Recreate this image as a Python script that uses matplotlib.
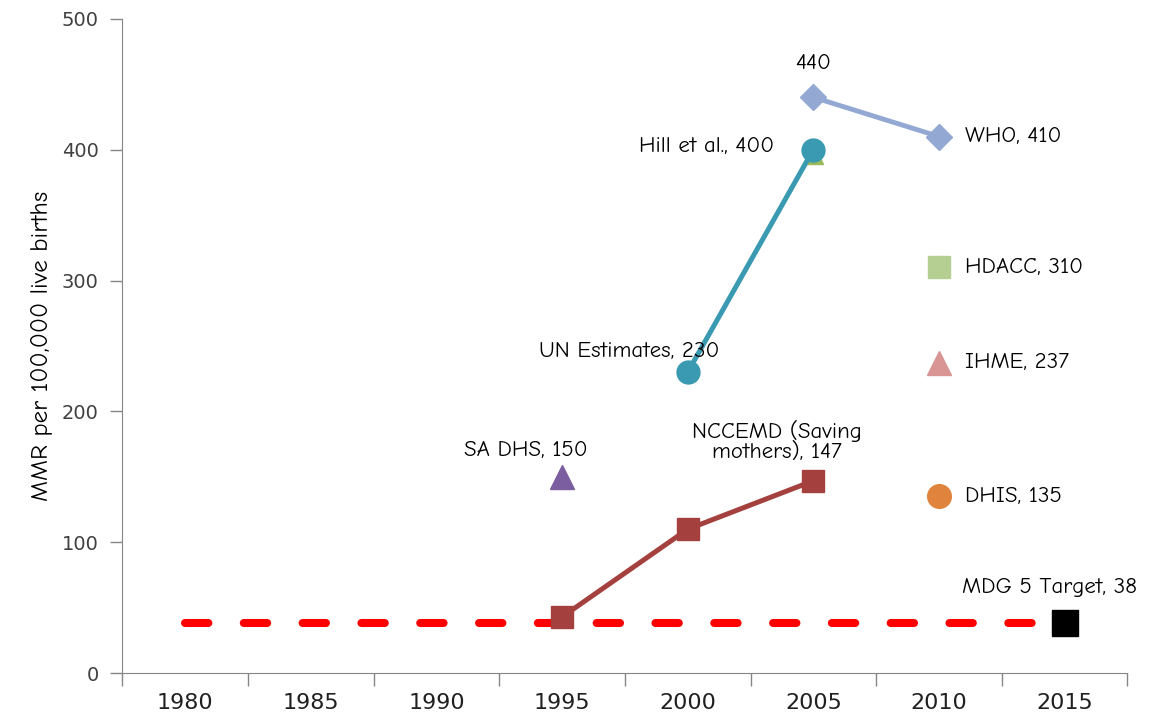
import matplotlib.pyplot as plt

# --- Dados ---
anos = ['1980', '1985', '1990', '1995', '2000', '2005', '2010', '2015']

who_anos = ['2005', '2010']
who_vals = [440, 410]

un_anos = ['2000', '2005']
un_vals = [230, 400]

nccemd_anos = ['1995', '2000', '2005']
nccemd_vals = [43, 110, 147]

sadhs_anos = ['1995']
sadhs_vals = [150]

hdacc_anos = ['2010']
hdacc_vals = [310]

ihme_anos = ['2010']
ihme_vals = [237]

dhis_anos = ['2010']
dhis_vals = [135]

extra_anos = ['2005']
extra_vals = [397]

meta_mdg = 38

FONTE_ROTULO = ['Comic Neue', 'Open Sans', 'DejaVu Sans']


def pos(lista):
    return [anos.index(a) for a in lista]


fig, ax = plt.subplots(figsize=(11.54, 7.2), dpi=100)
fig.subplots_adjust(left=0.106, right=0.977, top=0.974, bottom=0.065)

# linha da meta ODM 5 (tracejada)
ax.plot(range(len(anos)), [meta_mdg] * len(anos), color='#FF0000', lw=5.8,
        linestyle=(0, (2.9, 4.4)), dash_capstyle='round', zorder=2)
ax.plot([len(anos) - 1], [meta_mdg], marker='s', color='black', markersize=19,
        linestyle='none', zorder=6)

ax.plot(pos(extra_anos), extra_vals, marker='^', color='#9BBB59', markersize=15,
        linestyle='none', zorder=3)

ax.plot(pos(who_anos), who_vals, color='#93A9D4', lw=3.5, marker='D',
        markersize=13, zorder=4)
ax.plot(pos(un_anos), un_vals, color='#3A9AB2', lw=3.6, marker='o',
        markersize=16.5, zorder=4)
ax.plot(pos(nccemd_anos), nccemd_vals, color='#A4403D', lw=3.6, marker='s',
        markersize=16, zorder=4)
ax.plot(pos(sadhs_anos), sadhs_vals, color='#7B5EA0', marker='^', markersize=17,
        linestyle='none', zorder=4)
ax.plot(pos(hdacc_anos), hdacc_vals, color='#B5CF92', marker='s', markersize=16,
        linestyle='none', zorder=4)
ax.plot(pos(ihme_anos), ihme_vals, color='#D99594', marker='^', markersize=17,
        linestyle='none', zorder=4)
ax.plot(pos(dhis_anos), dhis_vals, color='#E0833D', marker='o', markersize=17,
        linestyle='none', zorder=4)

# --- Rótulos dos pontos ---
def rotulo(x, y, texto, dx, dy, ha='center'):
    ax.annotate(texto, xy=(x, y), xytext=(dx, dy), textcoords='offset points',
                ha=ha, va='center', fontsize=16.5, family=FONTE_ROTULO,
                linespacing=1.0, zorder=7)


rotulo(pos(who_anos)[0], who_vals[0], f'{who_vals[0]}', 0, 24)
rotulo(pos(who_anos)[1], who_vals[1], f'WHO, {who_vals[1]}', 19, 0, ha='left')
rotulo(pos(un_anos)[1], un_vals[1], f'Hill et al., {un_vals[1]}', -28, 2, ha='right')
rotulo(pos(un_anos)[0], un_vals[0], f'UN Estimates, {un_vals[0]}', -42, 15)
rotulo(pos(hdacc_anos)[0], hdacc_vals[0], f'HDACC, {hdacc_vals[0]}', 19, 0, ha='left')
rotulo(pos(ihme_anos)[0], ihme_vals[0], f'IHME, {ihme_vals[0]}', 19, 0, ha='left')
rotulo(pos(dhis_anos)[0], dhis_vals[0], f'DHIS, {dhis_vals[0]}', 19, 0, ha='left')
rotulo(pos(sadhs_anos)[0], sadhs_vals[0], f'SA DHS, {sadhs_vals[0]}', -26, 19)
rotulo(pos(nccemd_anos)[2], nccemd_vals[2], f'NCCEMD (Saving\nmothers), {nccemd_vals[2]}',
       -26, 29)
rotulo(len(anos) - 1, meta_mdg, f'MDG 5 Target, {meta_mdg}', -11, 26)

# --- Eixos ---
ax.set_xlim(-0.5, len(anos) - 0.5)
ax.set_ylim(0, 500)
ax.set_yticks(range(0, 501, 100))
ax.set_xticks(range(len(anos)))
ax.set_xticklabels(anos, family=['Liberation Sans Narrow', 'DejaVu Sans Condensed',
                                 'DejaVu Sans'], fontsize=16)
ax.set_xticks([i - 0.5 for i in range(len(anos) + 1)], minor=True)
ax.tick_params(axis='x', which='major', length=0, pad=14)
ax.tick_params(axis='x', which='minor', length=9, color='#868686', width=1)
ax.tick_params(axis='y', length=9, color='#868686', width=1, labelsize=14, pad=8)
for lab in ax.get_yticklabels():
    lab.set_color('#404040')
for lab in ax.get_xticklabels():
    lab.set_color('#202020')

ax.spines['top'].set_visible(False)
ax.spines['right'].set_visible(False)
ax.spines['left'].set_color('#868686')
ax.spines['bottom'].set_color('#868686')

ax.set_ylabel('MMR per 100,000 live births', fontsize=18, family=FONTE_ROTULO, labelpad=6)

plt.savefig('out.png', dpi=100)
